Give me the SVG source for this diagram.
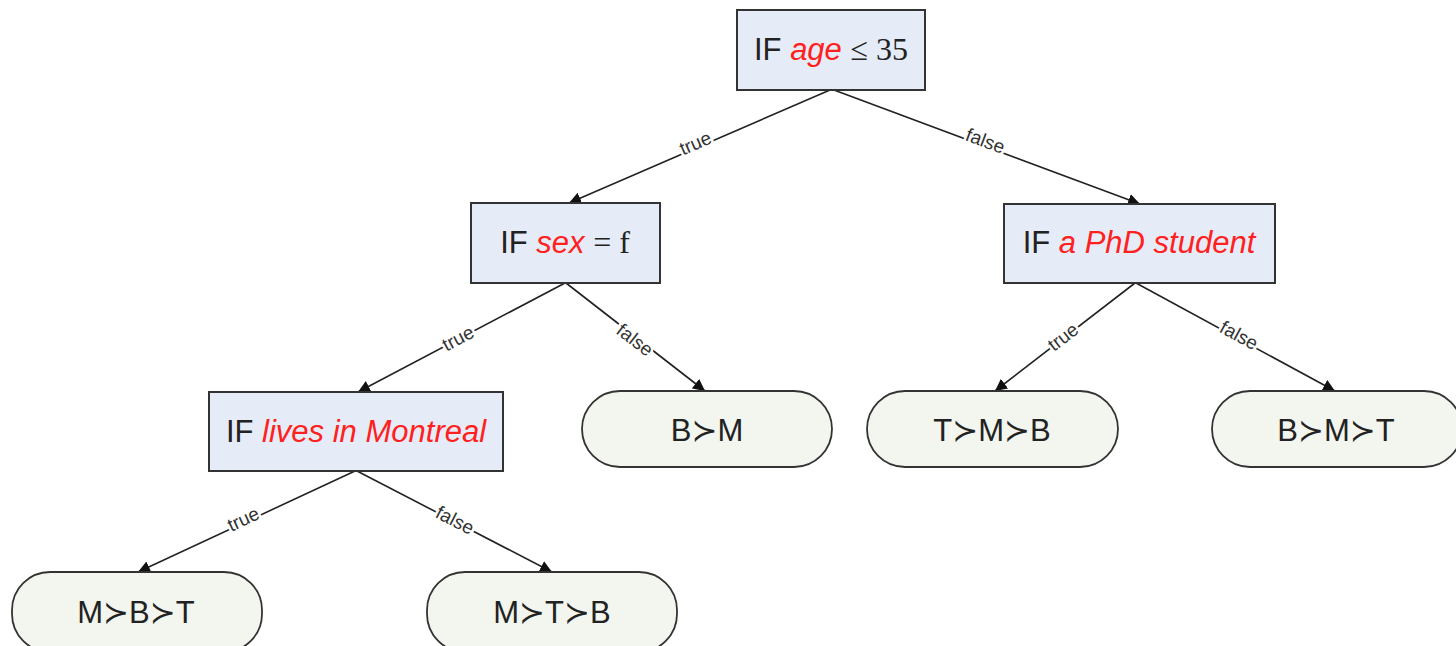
<svg xmlns="http://www.w3.org/2000/svg" width="1456" height="646" viewBox="0 0 1456 646">
<style>
.box{fill:#E6ECF7;stroke:#333;stroke-width:2}
.pill{fill:#F3F5EF;stroke:#333;stroke-width:1.8}
.t{font-family:"Liberation Sans",Arial,"DejaVu Sans",sans-serif;font-size:31px;fill:#222;text-anchor:middle}
.r{fill:#FF2020;font-style:italic}
.m{font-family:"Liberation Serif","Times New Roman",serif;font-size:32px}
.e{stroke:#222;stroke-width:1.6;fill:none;marker-end:url(#ah)}
.l{font-family:"Liberation Sans",Arial,sans-serif;font-size:19px;fill:#333;text-anchor:middle;stroke:#fff;stroke-width:5;paint-order:stroke;stroke-linejoin:round}
</style>
<defs>
<marker id="ah" viewBox="0 0 10 10" refX="10" refY="5" markerWidth="12" markerHeight="12" markerUnits="userSpaceOnUse" orient="auto">
<path d="M0,0 L10,5 L0,10 z" fill="#111"/>
</marker>
</defs>
<rect width="1456" height="646" fill="#fff"/>
<g id="connectors">
<line class="e" x1="830" y1="90" x2="569" y2="203"/>
<line class="e" x1="834" y1="90" x2="1140" y2="204"/>
<line class="e" x1="565" y1="283" x2="358" y2="392"/>
<line class="e" x1="566" y1="283" x2="705" y2="391"/>
<line class="e" x1="1135" y1="283" x2="995" y2="391"/>
<line class="e" x1="1136" y1="283" x2="1335" y2="391"/>
<line class="e" x1="355" y1="471" x2="138" y2="572"/>
<line class="e" x1="357" y1="471" x2="552" y2="572"/>
<text class="l" transform="translate(698,149) rotate(-23.4)">true</text>
<text class="l" transform="translate(983,147) rotate(20.5)">false</text>
<text class="l" transform="translate(461,344) rotate(-27.8)">true</text>
<text class="l" transform="translate(631,345) rotate(37.6)">false</text>
<text class="l" transform="translate(1067,342) rotate(-37.6)">true</text>
<text class="l" transform="translate(1236,341) rotate(28.4)">false</text>
<text class="l" transform="translate(246,525) rotate(-24.9)">true</text>
<text class="l" transform="translate(452,526) rotate(27.3)">false</text>
</g>
<g id="n_age">
<rect class="box" x="737" y="10" width="188" height="80"/>
<text class="t" x="831" y="60">IF <tspan class="r">age</tspan> <tspan class="m">≤ 35</tspan></text>
</g>
<g id="n_sex">
<rect class="box" x="471" y="203" width="189" height="80"/>
<text class="t" x="565" y="253">IF <tspan class="r">sex</tspan> <tspan class="m">= f</tspan></text>
</g>
<g id="n_phd">
<rect class="box" x="1004" y="204" width="271" height="79"/>
<text class="t" x="1139" y="253">IF <tspan class="r">a PhD student</tspan></text>
</g>
<g id="n_mtl">
<rect class="box" x="209" y="392" width="294" height="79"/>
<text class="t" x="356" y="442">IF <tspan class="r">lives in Montreal</tspan></text>
</g>
<g id="n_bm">
<rect class="pill" x="582" y="391" width="250" height="76" rx="38"/>
<text class="t" x="707" y="441">B≻M</text>
</g>
<g id="n_tmb">
<rect class="pill" x="867" y="391" width="251" height="76" rx="38"/>
<text class="t" x="992" y="441">T≻M≻B</text>
</g>
<g id="n_bmt">
<rect class="pill" x="1212" y="391" width="250" height="76" rx="38"/>
<text class="t" x="1336" y="441">B≻M≻T</text>
</g>
<g id="n_mbt">
<rect class="pill" x="12" y="572" width="250" height="80" rx="38"/>
<text class="t" x="136" y="623">M≻B≻T</text>
</g>
<g id="n_mtb">
<rect class="pill" x="427" y="572" width="250" height="80" rx="38"/>
<text class="t" x="552" y="623">M≻T≻B</text>
</g>
</svg>
